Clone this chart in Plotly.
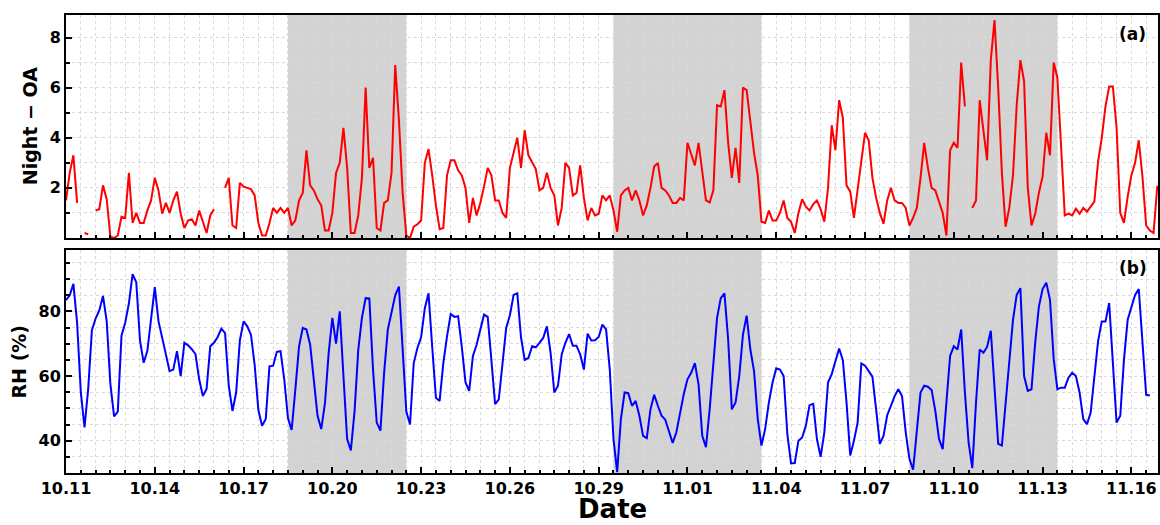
import numpy as np
import pandas as pd
import plotly.graph_objects as go
from plotly.subplots import make_subplots

nan = np.nan

# ---- data (3-hourly samples) ----
start_time = "2023-10-11 00:00"
step = "3h"

night_oa = [
    1.5, 2.6, 3.3, 1.4, nan, 0.2, 0.15, nan, 1.1, 1.15,
    2.1, 1.55, 0.05, 0.0, 0.1, 0.85, 0.8, 2.6, 0.6, 1.0,
    0.6, 0.6, 1.1, 1.5, 2.4, 1.9, 0.97, 1.4, 1.0, 1.5,
    1.85, 0.97, 0.4, 0.7, 0.75, 0.5, 1.1, 0.6, 0.2, 0.9,
    1.15, nan, nan, 2.0, 2.4, 0.5, 0.4, 2.2, 2.05, 2.0,
    1.95, 1.7, 0.6, 0.1, 0.1, 0.6, 1.2, 1.0, 1.2, 1.0,
    1.2, 0.5, 0.7, 1.5, 1.8, 3.5, 2.1, 1.9, 1.55, 1.3,
    0.3, 0.3, 1.0, 2.6, 3.0, 4.4, 2.8, 0.2, 0.2, 0.9,
    2.4, 6.0, 2.8, 3.2, 0.4, 0.3, 1.4, 1.5, 2.6, 6.9,
    4.7, 1.8, 0.1, 0.0, 0.45, 0.55, 0.7, 3.0, 3.55, 2.5,
    1.3, 0.35, 0.4, 2.5, 3.1, 3.1, 2.7, 2.5, 2.0, 0.6,
    1.6, 0.9, 1.4, 2.05, 2.8, 2.5, 1.5, 1.5, 1.0, 0.8,
    2.8, 3.4, 4.0, 2.8, 4.3, 3.3, 3.0, 2.75, 1.9, 2.0,
    2.6, 2.0, 1.7, 0.5, 1.2, 3.0, 2.8, 1.7, 1.8, 2.9,
    1.6, 0.7, 1.2, 0.9, 0.97, 1.7, 1.5, 1.7, 1.1, 0.25,
    1.7, 1.9, 2.0, 1.5, 1.9, 1.5, 0.9, 1.3, 2.0, 2.85,
    3.0, 2.0, 1.9, 1.7, 1.4, 1.4, 1.6, 1.5, 3.8, 3.3,
    2.9, 3.8, 2.6, 1.5, 1.42, 1.9, 5.3, 5.25, 5.9, 3.8,
    2.4, 3.6, 2.2, 6.0, 5.9, 4.6, 3.4, 2.5, 0.65, 0.6,
    1.1, 0.7, 0.7, 1.0, 1.5, 0.8, 0.65, 0.2, 1.0, 1.55,
    1.25, 1.1, 1.35, 1.5, 1.15, 0.65, 2.0, 4.5, 3.5, 5.5,
    4.8, 2.1, 1.85, 0.8, 2.0, 3.2, 4.2, 3.9, 2.4, 1.6,
    1.0, 0.57, 1.5, 2.0, 1.5, 1.4, 1.4, 1.2, 0.5, 0.8,
    1.2, 2.4, 3.8, 2.8, 2.0, 1.9, 1.4, 1.0, 0.1, 3.5,
    3.8, 3.6, 7.0, 5.25, nan, 1.2, 1.5, 5.5, 4.2, 3.1,
    7.1, 8.7, 6.0, 2.6, 0.45, 1.2, 2.5, 5.3, 7.1, 6.25,
    2.0, 0.5, 0.97, 1.8, 2.45, 4.2, 3.3, 7.0, 6.4, 3.4,
    0.9, 0.97, 0.9, 1.17, 0.97, 1.2, 1.05, 1.25, 1.45, 3.05,
    4.0, 5.25, 6.05, 6.05, 4.4, 1.0, 0.6, 1.65, 2.5, 3.0,
    3.9, 2.45, 0.5, 0.3, 0.2, 2.05, 2.05,
]

rh = [
    83.5, 85, 88.5, 76.5, 55, 44.1, 56, 74.2, 77.8, 80.3,
    84.8, 77, 57.5, 47.5, 49, 72.5, 76.5, 82.5, 91.5, 89,
    71, 64.1, 67.8, 77, 87.5, 77, 72.3, 66.7, 61.5, 62,
    67.7, 60, 70.3, 69.5, 68.3, 66.8, 59, 53.8, 56, 69.2,
    70.3, 72.1, 74.7, 73.3, 57, 49.2, 54.9, 71, 76.9, 75.4,
    72.8, 63.5, 49.5, 44.6, 46.7, 63, 63.2, 67.5, 67.7, 59,
    47, 43.3, 55.9, 69.2, 74.9, 74.4, 69.7, 59, 47.7, 43.6,
    51.5, 67, 78, 70, 80, 60, 40.5, 37, 49, 68,
    78, 84.1, 84, 62, 45.6, 43.1, 61, 74.4, 79.7, 85,
    87.7, 69, 49, 45, 64, 68.7, 72, 81, 85.6, 69,
    53.3, 52.3, 64, 72.3, 79.2, 78.3, 78.5, 69, 58, 55.4,
    66.2, 69.7, 74.4, 79, 78.3, 65, 51.3, 52.8, 64, 74.9,
    78.8, 85.1, 85.6, 72, 65, 65.6, 69.2, 68.9, 70.3, 71.8,
    75.4, 67.2, 54.9, 57, 66.7, 70.3, 73, 69.4, 69.4, 66.7,
    62, 73.1, 71, 71.1, 72.1, 75.9, 74.4, 62, 40.5, 30.3,
    46.7, 54.9, 54.7, 50.8, 52.3, 47.7, 41.5, 40.8, 49.7, 54.2,
    50.8, 47.7, 46.5, 42.6, 39.3, 42.6, 48.7, 54.4, 59, 61,
    64, 57.4, 41.5, 38, 49.7, 64.6, 78, 84.1, 85.6, 71.3,
    49.7, 51.8, 60, 72.8, 78.7, 68.2, 61.5, 46.7, 38.5, 43.6,
    51.8, 58, 62.4, 62, 60, 42, 33, 33.1, 40, 41,
    44.6, 51, 51.4, 40.5, 35, 42.6, 58, 60.6, 65, 68.5,
    65, 51.8, 35.4, 40, 45.6, 63.9, 63.2, 61.5, 59.8, 49.7,
    39, 41.5, 47.9, 50.8, 53.8, 55.9, 53.8, 42.6, 34.4, 31,
    43.6, 54.9, 57, 56.7, 55.7, 49.2, 40.5, 37.4, 51.8, 66.2,
    69.2, 68.2, 74.4, 54.9, 39.5, 31.5, 51.8, 68.2, 67.2, 69,
    74, 58, 39, 38.5, 50.8, 62.6, 77.4, 85.1, 87.2, 60,
    55.4, 55.9, 70.3, 81.5, 86.9, 88.9, 83.6, 65.3, 55.9, 56.4,
    56.4, 59.5, 61, 60, 54.9, 46.7, 45.1, 48.7, 59.8, 70.8,
    76.9, 76.9, 82.6, 63.1, 45.6, 47.7, 65.1, 77.4, 81, 85.1,
    86.9, 69.2, 54.2, 54, nan, nan, nan,
]

shade_start = ["2023-10-18 12:00", "2023-10-29 12:00", "2023-11-08 12:00"]
shade_end = ["2023-10-22 12:00", "2023-11-03 12:00", "2023-11-13 12:00"]
tick_dates = pd.date_range("2023-10-11", "2023-11-16", freq="3D")
x_range = ["2023-10-11 00:00", "2023-11-16 21:36"]

times = pd.date_range(start_time, periods=len(night_oa), freq=step)

FONT = "DejaVu Sans"
GRID = "#d9d9d9"

fig = make_subplots(rows=2, cols=1, shared_xaxes=True, vertical_spacing=12 / 458)
fig.add_trace(go.Scatter(x=times, y=night_oa, mode="lines",
                         line=dict(color="#ff0000", width=2), connectgaps=False),
              row=1, col=1)
fig.add_trace(go.Scatter(x=times, y=rh, mode="lines",
                         line=dict(color="#0000ff", width=2), connectgaps=False),
              row=2, col=1)

tickfont = dict(family=FONT, size=16, color="black", weight="bold")

xcommon = dict(
    type="date", range=x_range, tickvals=list(tick_dates), tickformat="%m.%d",
    ticks="inside", ticklen=6, tickwidth=2, tickcolor="black",
    showline=True, linewidth=2, linecolor="black", mirror=True,
    showgrid=True, gridcolor=GRID, griddash="dot", gridwidth=1,
    minor=dict(dtick=43200000, tick0="2023-10-11", ticks="inside", ticklen=3,
               tickwidth=1.5, tickcolor="black", showgrid=True,
               gridcolor=GRID, griddash="dot", gridwidth=1),
    tickfont=tickfont, zeroline=False, automargin=False,
)
fig.update_xaxes(**xcommon)
fig.update_xaxes(showticklabels=False, row=1, col=1)
fig.update_xaxes(showticklabels=True, row=2, col=1)

ycommon = dict(
    ticks="inside", ticklen=6, tickwidth=2, tickcolor="black",
    showline=True, linewidth=2, linecolor="black", mirror=True,
    showgrid=True, gridcolor=GRID, griddash="dot", gridwidth=1,
    tickfont=tickfont, zeroline=False, automargin=False,
)
fig.update_yaxes(**ycommon)
fig.update_yaxes(range=[0, 8.9], tickvals=[2, 4, 6, 8],
                 minor=dict(dtick=1, tick0=0, ticks="inside", ticklen=3.5,
                            tickwidth=1.5, tickcolor="black", showgrid=True,
                            gridcolor=GRID, griddash="dot", gridwidth=1),
                 row=1, col=1)
fig.update_yaxes(range=[30, 99], tickvals=[40, 60, 80],
                 minor=dict(dtick=5, tick0=0, ticks="inside", ticklen=3.5,
                            tickwidth=1.5, tickcolor="black", showgrid=True,
                            gridcolor=GRID, griddash="dot", gridwidth=1),
                 row=2, col=1)

for s, e in zip(shade_start, shade_end):
    for xr, yr in (("x", "y domain"), ("x2", "y2 domain")):
        fig.add_shape(type="rect", xref=xr, yref=yr, x0=s, x1=e, y0=0, y1=1,
                      fillcolor="#d3d3d3", line=dict(width=0), layer="below")

ann_font = dict(family=FONT, color="black", weight="bold")
common_ann = dict(xref="paper", yref="paper", showarrow=False,
                  xanchor="center", yanchor="middle")
fig.add_annotation(text="(a)", x=0.977, y=0.9585,
                   font=dict(size=17, **ann_font), **common_ann)
fig.add_annotation(text="(b)", x=0.977, y=0.4476,
                   font=dict(size=17, **ann_font), **common_ann)
fig.add_annotation(text="Night − OA", x=-0.033, y=0.757, textangle=-90,
                   font=dict(size=19, **ann_font), **common_ann)
fig.add_annotation(text="RH (%)", x=-0.043, y=0.2435, textangle=-90,
                   font=dict(size=19, **ann_font), **common_ann)
fig.add_annotation(text="Date", x=0.5, y=-0.0795,
                   font=dict(size=26, **ann_font), **common_ann)

fig.update_layout(
    width=1160, height=525,
    margin=dict(l=66, r=2, t=15, b=52),
    plot_bgcolor="white", paper_bgcolor="white",
    showlegend=False,
    font=dict(family=FONT),
)

fig.write_html("out.html",
               config={"displayModeBar": False},
               post_script="document.body.style.margin='0px';document.body.style.overflow='hidden';")
